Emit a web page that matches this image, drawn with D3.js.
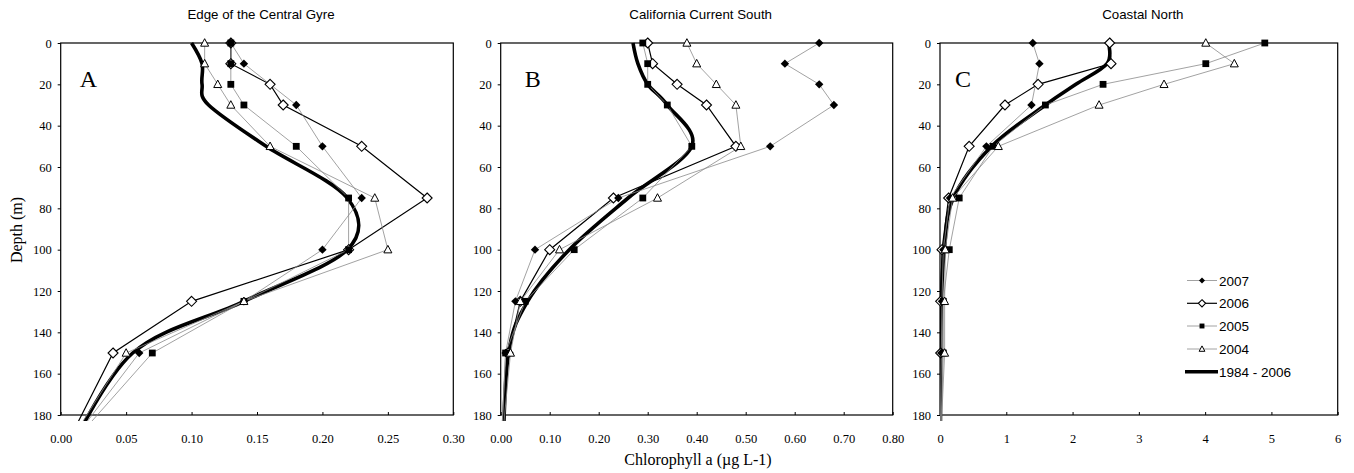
<!DOCTYPE html>
<html><head><meta charset="utf-8">
<script src="https://cdn.jsdelivr.net/npm/d3@7"></script>
<style>body{margin:0;background:#fff}svg{display:block}.tk text{font-family:'Liberation Serif','Times New Roman',serif !important;font-size:12.5px !important;fill:#000}</style>
</head><body><svg id="c" width="1354" height="473"></svg>
<script>
// ---- data ----
const depths = [0, 10, 20, 30, 50, 75, 100, 125, 150, 200];
const seriesNames = ["2007", "2006", "2005", "2004", "1984 - 2006"];
const panelTitles = ["Edge of the Central Gyre", "California Current South", "Coastal North"];
const panelLetters = ["A", "B", "C"];
const depthTicks = [0, 20, 40, 60, 80, 100, 120, 140, 160, 180];
const xTicksA = [0, 0.05, 0.10, 0.15, 0.20, 0.25, 0.30];
const xTicksB = [0, 0.10, 0.20, 0.30, 0.40, 0.50, 0.60, 0.70, 0.80];
const xTicksC = [0, 1, 2, 3, 4, 5, 6];

const gyre2007 = [0.13, 0.14, null, 0.18, 0.20, 0.23, 0.20, 0.14, 0.06, 0.00];
const gyre2006 = [0.13, 0.13, 0.16, 0.17, 0.23, 0.28, 0.22, 0.10, 0.04, 0.00];
const gyre2005 = [0.13, 0.13, 0.13, 0.14, 0.18, 0.22, 0.22, 0.14, 0.07, 0.00];
const gyre2004 = [0.11, 0.11, 0.12, 0.13, 0.16, 0.24, 0.25, 0.14, 0.05, 0.00];
const gyreMean = [0.100, 0.108, 0.108, 0.113, 0.157, 0.219, 0.219, 0.140, 0.055, 0.005];

const ccs2007 = [0.65, 0.58, 0.65, 0.68, 0.55, 0.24, 0.07, 0.03, 0.01, 0.00];
const ccs2006 = [0.30, 0.31, 0.36, 0.42, 0.48, 0.23, 0.10, 0.04, 0.015, 0.00];
const ccs2005 = [0.29, 0.30, 0.30, 0.34, 0.39, 0.29, 0.15, 0.05, 0.01, 0.00];
const ccs2004 = [0.38, 0.40, 0.44, 0.48, 0.49, 0.32, 0.12, 0.04, 0.02, 0.00];
const ccsMean = [0.27, 0.28, 0.30, 0.34, 0.39, 0.26, 0.14, 0.055, 0.016, 0.005];

const coast2007 = [1.40, 1.50, null, 1.38, 0.70, 0.15, 0.05, 0.03, 0.02, 0.00];
const coast2006 = [2.56, 2.58, 1.48, 0.98, 0.44, 0.13, 0.03, 0.01, 0.01, 0.00];
const coast2005 = [4.90, 4.01, 2.46, 1.59, 0.80, 0.29, 0.14, 0.05, 0.05, 0.00];
const coast2004 = [4.01, 4.44, 3.38, 2.40, 0.88, 0.19, 0.08, 0.07, 0.07, 0.00];
const coastMean = [2.54, 2.52, 2.05, 1.59, 0.78, 0.20, 0.065, 0.02, 0.01, 0.005];

// ---- layout ----
const panels = [
  {left: 60.7, right: 453.3, xMax: 0.30, ticks: xTicksA, fmt: d3.format(".2f"), letterDx: 19,
   series: [gyre2007, gyre2006, gyre2005, gyre2004], mean: gyreMean},
  {left: 500.7, right: 892.7, xMax: 0.80, ticks: xTicksB, fmt: d3.format(".2f"), letterDx: 24,
   series: [ccs2007, ccs2006, ccs2005, ccs2004], mean: ccsMean},
  {left: 940, right: 1337.7, xMax: 6, ticks: xTicksC, fmt: d3.format("d"), letterDx: 15,
   series: [coast2007, coast2006, coast2005, coast2004], mean: coastMean}
];
const plotTop = 43, plotBottom = 415;
const serif = "'Liberation Serif','Times New Roman',serif";
const sans = "'Liberation Sans',Arial,sans-serif";

const styles = [
  {stroke: "#8a8a8a", width: 0.8, marker: "fdiamond"},
  {stroke: "#000", width: 1.2, marker: "odiamond"},
  {stroke: "#8a8a8a", width: 0.8, marker: "square"},
  {stroke: "#8a8a8a", width: 0.8, marker: "triangle"}
];

function drawMarker(g, type, x, y, s = 1) {
  if (type === "fdiamond") {
    const r = 4.2 * s;
    g.append("path").attr("d", `M${x},${y-r}L${x+r},${y}L${x},${y+r}L${x-r},${y}Z`).attr("fill", "#000");
  } else if (type === "odiamond") {
    const r = 5 * s;
    g.append("path").attr("d", `M${x},${y-r}L${x+r},${y}L${x},${y+r}L${x-r},${y}Z`)
      .attr("fill", "#fff").attr("stroke", "#000").attr("stroke-width", 1.1);
  } else if (type === "square") {
    const h = 3.4 * s;
    g.append("rect").attr("x", x-h).attr("y", y-h).attr("width", 2*h).attr("height", 2*h).attr("fill", "#000");
  } else {
    g.append("path").attr("d", `M${x},${y-4.3*s}L${x+4*s},${y+3.2*s}L${x-4*s},${y+3.2*s}Z`)
      .attr("fill", "#fff").attr("stroke", "#000").attr("stroke-width", 1);
  }
}

const svg = d3.select("#c");

panels.forEach((p, pi) => {
  const x = d3.scaleLinear().domain([0, p.xMax]).range([p.left, p.right]);
  const y = d3.scaleLinear().domain([0, 180]).range([plotTop, plotBottom]);
  const g = svg.append("g");

  const clipId = "clip" + pi;
  svg.append("clipPath").attr("id", clipId).append("rect")
    .attr("x", p.left).attr("y", plotTop - 10).attr("width", p.right - p.left).attr("height", plotBottom - plotTop + 16);

  g.append("text").attr("x", (p.left + p.right) / 2 + 4).attr("y", 19)
    .attr("text-anchor", "middle").attr("font-family", sans).attr("font-size", 13.3).text(panelTitles[pi]);

  const yAxis = d3.axisLeft(y).tickValues(depthTicks).tickSize(3).tickPadding(6).tickFormat(d3.format("d"));
  const ya = g.append("g").attr("class", "tk").attr("transform", `translate(${p.left},0)`).call(yAxis);
  ya.select(".domain").remove();
  ya.attr("font-family", serif).attr("font-size", 12.5);

  const xAxis = d3.axisBottom(x).tickValues(p.ticks).tickSize(0).tickPadding(19).tickFormat(p.fmt);
  const xa = g.append("g").attr("class", "tk").attr("transform", `translate(0,${plotBottom})`).call(xAxis);
  xa.select(".domain").remove();
  xa.attr("font-family", serif).attr("font-size", 12.5);
  xa.selectAll(".tick").append("line").attr("y1", 0).attr("y2", -3).attr("stroke", "#000");

  g.append("rect").attr("x", p.left).attr("y", plotTop).attr("width", p.right - p.left).attr("height", plotBottom - plotTop)
    .attr("fill", "none").attr("stroke", "#000").attr("stroke-width", 1.2);

  g.append("text").attr("x", p.left + p.letterDx).attr("y", 87).attr("font-family", serif)
    .attr("font-size", 24).text(panelLetters[pi]);

  const lineGen = d3.line().x(d => x(d[1])).y(d => y(d[0]));
  const lines = g.append("g").attr("clip-path", `url(#${clipId})`);

  const meanGen = d3.line().x(d => x(d[1])).y(d => y(d[0])).curve(d3.curveCardinal.tension(0));
  lines.append("path").datum(depths.map((d, i) => [d, p.mean[i]]))
    .attr("d", meanGen).attr("fill", "none").attr("stroke", "#000").attr("stroke-width", 3.6);

  const order = [1, 0, 2, 3];
  order.forEach(si => {
    const st = styles[si];
    const pts = depths.map((d, i) => [d, p.series[si][i]]).filter(d => d[1] != null);
    lines.append("path").datum(pts)
      .attr("d", lineGen).attr("fill", "none").attr("stroke", st.stroke).attr("stroke-width", st.width);
  });
  const mk = g.append("g");
  order.forEach(si => {
    depths.forEach((d, i) => {
      const v = p.series[si][i];
      if (d <= 180 && v != null) drawMarker(mk, styles[si].marker, x(v), y(d));
    });
  });
});

svg.append("text").attr("transform", "translate(22,230) rotate(-90)").attr("text-anchor", "middle")
  .attr("font-family", serif).attr("font-size", 16).text("Depth (m)");
svg.append("text").attr("x", 698).attr("y", 465).attr("text-anchor", "middle")
  .attr("font-family", serif).attr("font-size", 16).text("Chlorophyll a (\u00b5g L-1)");

const lg = svg.append("g");
const legendY = [280.5, 303.3, 326, 349, 371.7];
seriesNames.forEach((name, i) => {
  const ly = legendY[i];
  if (i < 4) {
    lg.append("line").attr("x1", 1187).attr("x2", 1217).attr("y1", ly).attr("y2", ly)
      .attr("stroke", styles[i].stroke).attr("stroke-width", styles[i].width);
    drawMarker(lg, styles[i].marker, 1202, ly, 0.72);
  } else {
    lg.append("line").attr("x1", 1185).attr("x2", 1218).attr("y1", ly).attr("y2", ly)
      .attr("stroke", "#000").attr("stroke-width", 3.6);
  }
  lg.append("text").attr("x", 1219).attr("y", ly + 5).attr("font-family", sans).attr("font-size", 13.5).text(name);
});
</script>
</body></html>
